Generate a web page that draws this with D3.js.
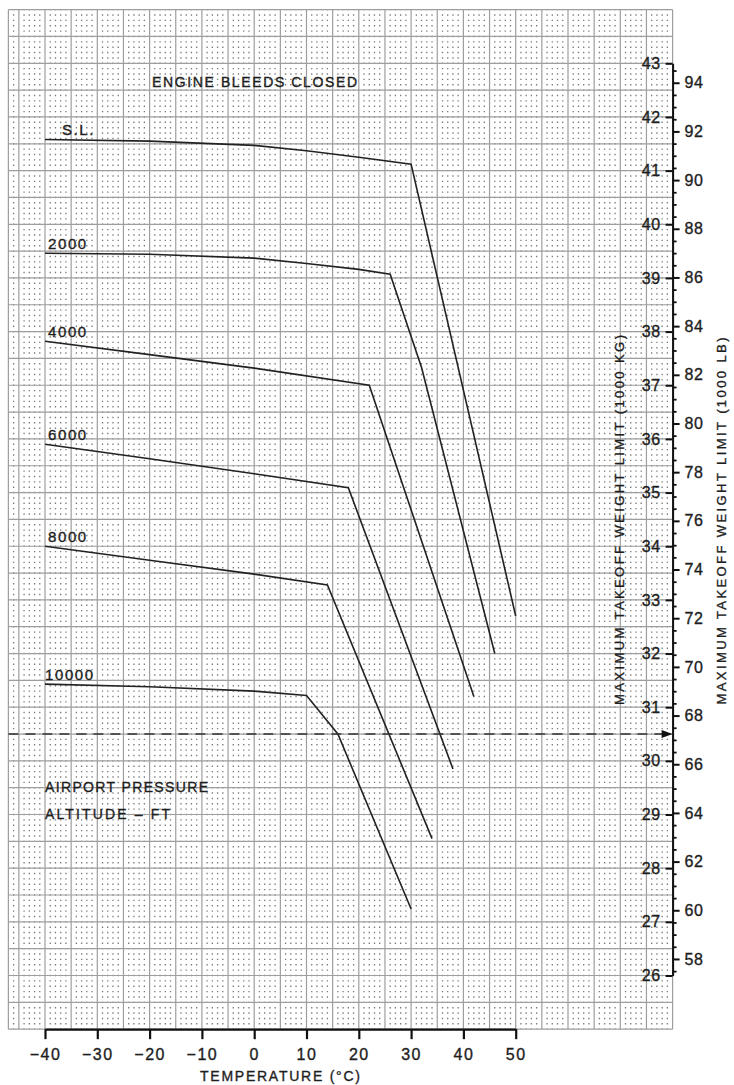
<!DOCTYPE html>
<html>
<head>
<meta charset="utf-8">
<script src="https://cdn.jsdelivr.net/npm/d3@7"></script>
<style>
  body { margin: 0; background: #fff; }
  svg text { font-family: "Liberation Sans", Arial, sans-serif; fill: #1e1e1e; stroke: #1e1e1e; stroke-width: 0.35; }
</style>
</head>
<body>
<div id="chart"></div>
<script>
// takeoff weight limit curves, [temperature C, weight 1000 kg]
var seriesSL    = [[-40, 41.58], [-20, 41.55], [0, 41.47], [10, 41.37], [20, 41.25], [30, 41.12], [50, 32.70]];
var series2000  = [[-40, 39.46], [-20, 39.44], [0, 39.37], [10, 39.27], [20, 39.16], [26, 39.07], [32, 37.33], [46, 32.00]];
var series4000  = [[-40, 37.82], [-20, 37.57], [0, 37.32], [22, 37.00], [42, 31.20]];
var series6000  = [[-40, 35.90], [-20, 35.63], [0, 35.35], [18, 35.09], [38, 29.85]];
var series8000  = [[-40, 34.00], [-20, 33.74], [0, 33.48], [14, 33.28], [34, 28.55]];
var series10000 = [[-40, 31.43], [-20, 31.38], [0, 31.30], [10, 31.22], [16, 30.50], [30, 27.24]];

var altLabels = ["S.L.", "2000", "4000", "6000", "8000", "10000"];
var allSeries = [seriesSL, series2000, series4000, series6000, series8000, series10000];

var tempTicks = [-40, -30, -20, -10, 0, 10, 20, 30, 40, 50];
var kgTicks = d3.range(26, 44);
var lbTicks = d3.range(58, 95, 2);
var lbMinor = d3.range(57.5, 95, 0.5).filter(function (d) { return d % 2 !== 0; });
var refWeight = 30.5;
var KG_TO_LB = 2.20462;

(function () {
    var width = 734, height = 1085;

    var x = d3.scaleLinear().domain([-40, 50]).range([45, 515.7]);
    var y = d3.scaleLinear().domain([26, 43]).range([975.5, 63.3]);
    var yLb = d3.scaleLinear().domain([26 * KG_TO_LB, 43 * KG_TO_LB]).range([975.5, 63.3]);

    var gridT = [-47, 80], gridW = [25, 44];
    var axisX = x(80);

    var svg = d3.select("#chart").append("svg")
        .attr("width", width).attr("height", height);

    // minor dots: vertical dotted lines hitting every 0.1 (1000 kg) row
    var step = y(0) - y(0.1);
    var dots = svg.append("g");
    d3.range(gridT[0] + 1, gridT[1]).filter(function (t) { return t % 5 !== 0; })
        .forEach(function (t) {
            dots.append("line")
                .attr("x1", x(t)).attr("x2", x(t))
                .attr("y1", y(gridW[1]) - 0.7).attr("y2", y(gridW[0]))
                .attr("stroke", "#7a7a7a").attr("stroke-width", 1.3)
                .attr("stroke-dasharray", "1.4," + (step - 1.4));
        });

    // major grid
    var grid = svg.append("g").attr("stroke", "#9e9e9e").attr("stroke-width", 1.2);
    d3.range(-45, 81, 5).concat([gridT[0]]).forEach(function (t) {
        grid.append("line").attr("x1", x(t)).attr("x2", x(t))
            .attr("y1", y(gridW[1])).attr("y2", y(gridW[0]));
    });
    d3.range(gridW[0], gridW[1] + 0.01, 0.5).forEach(function (w) {
        grid.append("line").attr("x1", x(gridT[0])).attr("x2", x(gridT[1]))
            .attr("y1", y(w)).attr("y2", y(w));
    });

    // curves
    var line = d3.line().x(function (d) { return x(d[0]); }).y(function (d) { return y(d[1]); });
    allSeries.forEach(function (s, i) {
        svg.append("path").datum(s).attr("d", line)
            .attr("fill", "none").attr("stroke", "#222").attr("stroke-width", 1.6);
        svg.append("text")
            .attr("x", i === 0 ? 62 : (i === 5 ? 45 : 48))
            .attr("y", y(s[0][1]) - 4.5)
            .attr("font-size", 15).attr("letter-spacing", 1.6)
            .text(altLabels[i]);
    });

    // dashed reference line with arrow
    svg.append("line")
        .attr("x1", x(gridT[0])).attr("x2", axisX - 8)
        .attr("y1", y(refWeight)).attr("y2", y(refWeight))
        .attr("stroke", "#333").attr("stroke-width", 1.6)
        .attr("stroke-dasharray", "10,7");
    svg.append("path")
        .attr("d", "M" + (axisX - 11) + "," + (y(refWeight) - 4) + "L" + axisX + "," + y(refWeight) +
            "L" + (axisX - 11) + "," + (y(refWeight) + 4) + "Z")
        .attr("fill", "#111");

    // x axis
    var xAxis = svg.append("g").attr("transform", "translate(0," + y(gridW[0]) + ")")
        .call(d3.axisBottom(x).tickValues(tempTicks).tickSize(10).tickSizeOuter(0).tickPadding(9));
    xAxis.selectAll("path, line").attr("stroke", "#111").attr("stroke-width", 2.2);
    xAxis.selectAll("text").attr("font-size", 16).attr("letter-spacing", 1.5).attr("fill", "#1e1e1e");

    // kg axis (left ticks, labels inside the grid)
    var kgAxis = svg.append("g").attr("transform", "translate(" + axisX + ",0)")
        .call(d3.axisLeft(y).tickValues(kgTicks).tickSize(7).tickSizeOuter(0).tickPadding(5));
    kgAxis.selectAll("path, line").attr("stroke", "#111").attr("stroke-width", 2);
    kgAxis.selectAll("text").attr("font-size", 16).attr("letter-spacing", 0.5).attr("fill", "#1e1e1e");

    // lb axis
    var lbAxis = svg.append("g").attr("transform", "translate(" + axisX + ",0)")
        .call(d3.axisRight(yLb).tickValues(lbTicks).tickSize(7).tickSizeOuter(0).tickPadding(5));
    lbAxis.select(".domain").remove();
    lbAxis.selectAll("line").attr("stroke", "#111").attr("stroke-width", 2);
    lbAxis.selectAll("text").attr("font-size", 16).attr("letter-spacing", 0.5).attr("fill", "#1e1e1e");

    var lbMinorAxis = svg.append("g").attr("transform", "translate(" + axisX + ",0)")
        .call(d3.axisRight(yLb).tickValues(lbMinor).tickSize(4).tickSizeOuter(0).tickFormat(""));
    lbMinorAxis.select(".domain").remove();
    lbMinorAxis.selectAll("line").attr("stroke", "#111").attr("stroke-width", 1.8);

    // texts
    svg.append("text").attr("x", 152).attr("y", 87).attr("font-size", 14)
        .attr("textLength", 205).attr("lengthAdjust", "spacing").text("ENGINE BLEEDS CLOSED");
    svg.append("text").attr("x", 45).attr("y", 792).attr("font-size", 14)
        .attr("textLength", 163).attr("lengthAdjust", "spacing").text("AIRPORT PRESSURE");
    svg.append("text").attr("x", 45).attr("y", 819).attr("font-size", 14)
        .attr("textLength", 125).attr("lengthAdjust", "spacing").text("ALTITUDE \u2013 FT");
    svg.append("text").attr("x", 280).attr("y", 1081).attr("font-size", 14)
        .attr("text-anchor", "middle")
        .attr("textLength", 160).attr("lengthAdjust", "spacing").text("TEMPERATURE (\u00b0C)");

    svg.append("text").attr("transform", "translate(624,520) rotate(-90)")
        .attr("text-anchor", "middle").attr("font-size", 13)
        .attr("textLength", 370).attr("lengthAdjust", "spacing")
        .text("MAXIMUM TAKEOFF WEIGHT LIMIT (1000 KG)");
    svg.append("text").attr("transform", "translate(726,521) rotate(-90)")
        .attr("text-anchor", "middle").attr("font-size", 13)
        .attr("textLength", 367).attr("lengthAdjust", "spacing")
        .text("MAXIMUM TAKEOFF WEIGHT LIMIT (1000 LB)");
})();
</script>
</body>
</html>
